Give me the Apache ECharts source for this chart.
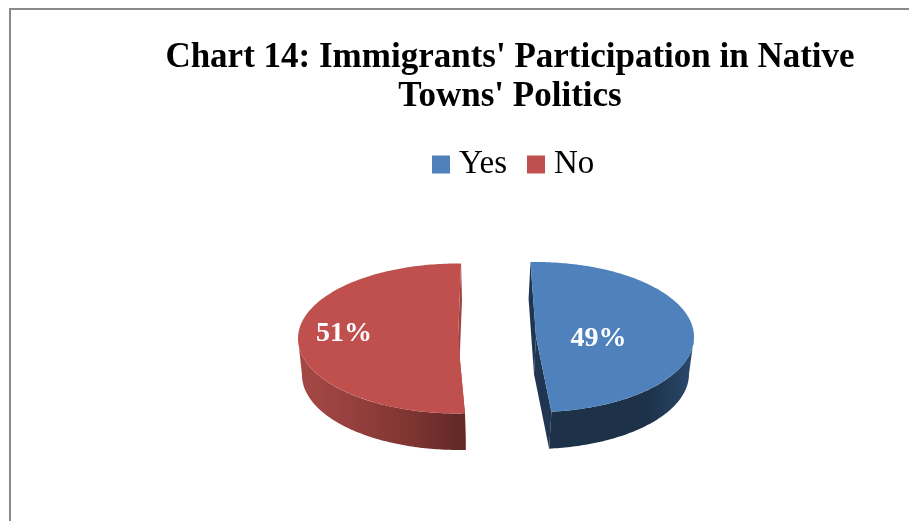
<!DOCTYPE html>
<html>
<head>
<meta charset="utf-8">
<style>html,body{margin:0;padding:0;background:#fff}#chart{width:909px;height:521px}</style>
<script src="https://cdn.jsdelivr.net/npm/echarts@6/dist/echarts.min.js"></script>
</head>
<body>
<div id="chart"></div>
<script>
const titleLines = ["Chart 14: Immigrants' Participation in Native", "Towns' Politics"];
const categories = ['Yes', 'No'];
const shares = [49, 51];

const serif = '"Liberation Serif", "Times New Roman", serif';
const total = shares.reduce((a, b) => a + b, 0);

// Tilted, exploded disc: each wedge has its own centre and its own start bearing.
const wedgeLayout = {
  Yes: {
    cx: 536, cy: 337, rx: 158, ry: 75, start: -2, base: { cx: 534, cy: 374, rx: 155, ry: 75 },
    labelDx: 62.5, labelDy: 2,
    top: '#4F81BD', cut: '#1F3552',
    wall: [[0, '#1D3149'], [0.68, '#1D3149'], [0.88, '#24405F'], [1, '#2C4B70']]
  },
  No: {
    cx: 458, cy: 338.5, rx: 160, ry: 75, start: 177.5, base: { cx: 459, cy: 375, rx: 157, ry: 75 },
    labelDx: -114, labelDy: -5,
    top: '#C0504D', cut: '#A24441',
    wall: [[0, '#A64845'], [0.3, '#96413E'], [0.7, '#7C3431'], [0.93, '#652A28'], [1, '#622927']]
  }
};

function rimPoint(e, deg) {
  const a = deg * Math.PI / 180;
  return [e.cx + e.rx * Math.sin(a), e.cy - e.ry * Math.cos(a)];
}

function rimArc(e, from, to) {
  const pts = [];
  const n = Math.max(2, Math.ceil(Math.abs(to - from)));
  for (let i = 0; i <= n; i++) pts.push(rimPoint(e, from + (to - from) * i / n));
  return pts;
}

function wedgeRenderer(name) {
  const g = wedgeLayout[name];
  return function (params, api) {
    const value = api.value(0);
    const a0 = g.start;
    const a1 = a0 + 360 * value / total;
    const c = [g.cx, g.cy];
    const b = [g.base.cx, g.base.cy];
    // The outer wall only shows on the near half of the rim.
    const w0 = Math.max(a0, 90);
    const w1 = Math.min(a1, 270);
    const poly = (points, fill) => ({ type: 'polygon', shape: { points }, style: { fill } });
    return {
      type: 'group',
      children: [
        poly([rimPoint(g, a0), rimPoint(g.base, a0), b, c], g.cut),
        poly([c, b, rimPoint(g.base, a1), rimPoint(g, a1)], g.cut),
        poly(rimArc(g, w0, w1).concat(rimArc(g.base, w1, w0)),
          new echarts.graphic.LinearGradient(0, 0, 1, 0,
            g.wall.map(s => ({ offset: s[0], color: s[1] })))),
        poly([c].concat(rimArc(g, a0, a1)), g.top),
        {
          type: 'text',
          x: g.cx + g.labelDx,
          y: g.cy + g.labelDy,
          style: {
            text: value + '%',
            fill: '#fff',
            font: 'bold 28px ' + serif,
            textAlign: 'center',
            textVerticalAlign: 'middle'
          }
        }
      ]
    };
  };
}

const chart = echarts.init(document.getElementById('chart'), null, { renderer: 'canvas' });
chart.setOption({
  animation: false,
  backgroundColor: '#fff',
  title: {
    text: titleLines.join('\n'),
    left: 505,
    top: 33,
    textAlign: 'center',
    textStyle: { fontFamily: serif, fontWeight: 'bold', fontSize: 35, lineHeight: 39, color: '#000' }
  },
  legend: {
    data: categories,
    left: 427,
    top: 143,
    icon: 'rect',
    itemWidth: 18,
    itemHeight: 18,
    itemGap: 20,
    selectedMode: false,
    textStyle: { fontFamily: serif, fontSize: 33, color: '#000', padding: [0, 0, 0, 4] }
  },
  graphic: [{
    type: 'polyline',
    silent: true,
    shape: { points: [[10, 530], [10, 9], [920, 9]] },
    style: { fill: null, stroke: '#8A8A8A', lineWidth: 2 }
  }],
  series: categories.map((name, i) => ({
    type: 'custom',
    name,
    coordinateSystem: 'none',
    itemStyle: { color: wedgeLayout[name].top },
    data: [[shares[i]]],
    renderItem: wedgeRenderer(name)
  }))
});
</script>
</body>
</html>
